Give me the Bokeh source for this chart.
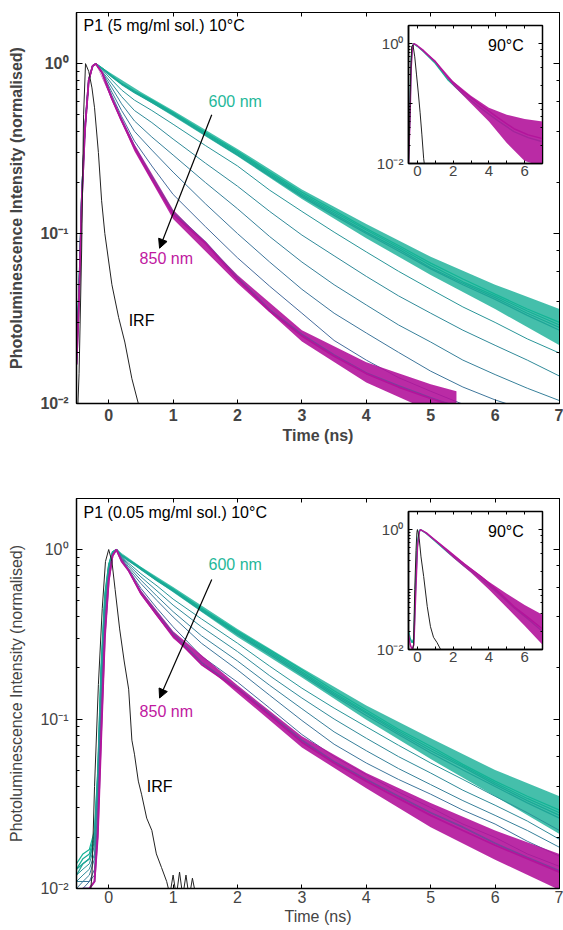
from bokeh.plotting import figure
from bokeh.layouts import column
from bokeh.models import (LinearAxis, LogAxis, FixedTicker, Range1d, Arrow, NormalHead,
                          CustomJSTickFormatter)
from bokeh.core.properties import value
from bokeh.embed import file_html
from bokeh.resources import INLINE

FONT = "Liberation Sans"

# ---------------- data ----------------
WAVELENGTHS = [600, 625, 650, 675, 700, 725, 750, 775, 800, 825, 850]
COLORS = ["#14b496", "#17af96", "#1aaa96", "#1ea597", "#299598", "#308a99",
          "#37809a", "#3e769b", "#466b9c", "#7c409c", "#b3149b"]
X_TICKS = [0, 1, 2, 3, 4, 5, 6, 7]

# top panel: P1 (5 mg/ml sol.) 10 C
T_TOP = [-0.5, -0.46, -0.42, -0.37, -0.31, -0.25, -0.2, -0.1, 0.05, 0.2, 0.4, 0.67, 1.0,
         1.5, 2.0, 2.5, 3.0, 3.5, 4.0, 4.5, 5.0, 5.5, 6.0, 6.5, 7.0]
top_600 = [0.02, 0.05, 0.17, 0.42, 0.8, 0.97, 1.0, 0.94, 0.85, 0.77, 0.69, 0.61, 0.515, 0.395, 0.305, 0.23, 0.175, 0.137, 0.107, 0.085, 0.067, 0.054, 0.044, 0.036, 0.030]
top_625 = [0.02, 0.05, 0.17, 0.42, 0.8, 0.97, 1.0, 0.94, 0.845, 0.765, 0.685, 0.605, 0.51, 0.39, 0.30, 0.226, 0.171, 0.134, 0.105, 0.083, 0.065, 0.052, 0.043, 0.035, 0.029]
top_650 = [0.019, 0.048, 0.16, 0.41, 0.8, 0.97, 1.0, 0.935, 0.84, 0.76, 0.68, 0.60, 0.505, 0.385, 0.295, 0.222, 0.168, 0.131, 0.102, 0.081, 0.063, 0.051, 0.042, 0.034, 0.028]
top_675 = [0.019, 0.047, 0.16, 0.41, 0.8, 0.97, 1.0, 0.93, 0.835, 0.755, 0.675, 0.59, 0.50, 0.38, 0.29, 0.218, 0.165, 0.128, 0.1, 0.079, 0.062, 0.05, 0.041, 0.033, 0.027]
top_700 = [0.018, 0.046, 0.16, 0.4, 0.8, 0.97, 1.0, 0.92, 0.80, 0.70, 0.61, 0.53, 0.44, 0.33, 0.25, 0.18, 0.135, 0.102, 0.078, 0.060, 0.047, 0.037, 0.030, 0.024, 0.0198]
top_725 = [0.018, 0.045, 0.155, 0.4, 0.8, 0.97, 1.0, 0.90, 0.76, 0.64, 0.53, 0.45, 0.36, 0.26, 0.19, 0.135, 0.098, 0.074, 0.056, 0.043, 0.034, 0.027, 0.022, 0.018, 0.0145]
top_750 = [0.018, 0.044, 0.155, 0.4, 0.8, 0.97, 1.0, 0.89, 0.72, 0.58, 0.46, 0.37, 0.29, 0.20, 0.14, 0.096, 0.068, 0.050, 0.038, 0.029, 0.023, 0.018, 0.0148, 0.0123, 0.0104]
top_775 = [0.017, 0.043, 0.15, 0.4, 0.8, 0.97, 1.0, 0.88, 0.68, 0.53, 0.40, 0.31, 0.23, 0.15, 0.10, 0.068, 0.047, 0.034, 0.026, 0.020, 0.0155, 0.0125, 0.0105, 0.0091, 0.008]
top_800 = [0.017, 0.042, 0.15, 0.4, 0.8, 0.97, 1.0, 0.88, 0.65, 0.49, 0.35, 0.25, 0.17, 0.11, 0.072, 0.049, 0.034, 0.0235, 0.018, 0.0142, 0.0118, 0.0099, 0.0086, 0.0076, 0.0068]
top_825 = [0.017, 0.041, 0.15, 0.4, 0.8, 0.97, 1.0, 0.88, 0.625, 0.465, 0.325, 0.215, 0.133, 0.089, 0.055, 0.0355, 0.0255, 0.0193, 0.0151, 0.0127, 0.0108, 0.0093, 0.008, 0.007, 0.006]
top_850 = [0.017, 0.04, 0.15, 0.4, 0.8, 0.97, 1.0, 0.88, 0.62, 0.46, 0.32, 0.21, 0.13, 0.088, 0.054, 0.035, 0.025, 0.019, 0.015, 0.0125, 0.0107, 0.0093, 0.0082, 0.0072, 0.0063]
irf_top_t = [-0.5, -0.46, -0.42, -0.39, -0.36, -0.31, -0.26, -0.22, -0.16, -0.11, -0.06, 0.05, 0.155, 0.25, 0.36, 0.46, 0.52]
irf_top_v = [0.006, 0.015, 0.08, 0.5, 1.0, 0.9, 0.72, 0.55, 0.3, 0.156, 0.1, 0.05, 0.032, 0.023, 0.014, 0.01, 0.009]
# noisy-band envelopes
band_top_teal_t = [-0.2, 0.5, 1.0, 2.0, 3.0, 4.0, 5.0, 6.0, 7.0]
band_top_teal_hi = [1.0, 0.68, 0.53, 0.315, 0.182, 0.114, 0.073, 0.05, 0.036]
band_top_teal_lo = [1.0, 0.64, 0.49, 0.285, 0.16, 0.094, 0.057, 0.036, 0.022]
band_top_mag_t = [-0.2, 0.4, 1.0, 2.0, 3.0, 4.0, 5.0, 5.4]
band_top_mag_hi = [1.0, 0.335, 0.138, 0.057, 0.027, 0.0175, 0.013, 0.0118]
band_top_mag_lo = [1.0, 0.305, 0.122, 0.051, 0.0232, 0.0133, 0.009, 0.0082]

# top inset (90 C)
T_IN_TOP = [-0.5, -0.42, -0.35, -0.28, -0.2, 0.0, 0.35, 1.0, 1.7, 2.6, 3.56, 4.5, 5.4, 6.2, 7.0]
in_top_600 = [0.012, 0.08, 0.55, 0.9, 1.0, 0.9, 0.73, 0.47, 0.25, 0.14, 0.083, 0.052, 0.034, 0.027, 0.023]
in_top_850 = [0.01, 0.05, 0.4, 0.85, 1.0, 0.92, 0.76, 0.5, 0.27, 0.155, 0.093, 0.058, 0.038, 0.03, 0.026]
band_in_top_t = [-0.2, 1.0, 2.0, 3.0, 4.0, 5.0, 6.0, 7.0]
band_in_top_hi = [1.0, 0.52, 0.235, 0.135, 0.085, 0.065, 0.055, 0.05]
band_in_top_lo = [1.0, 0.48, 0.2, 0.1, 0.05, 0.022, 0.011, 0.009]
irf_in_top_t = [-0.5, -0.44, -0.38, -0.32, -0.25, -0.15, -0.05, 0.05, 0.15, 0.25, 0.35, 0.45]
irf_in_top_v = [0.01, 0.04, 0.3, 0.9, 0.95, 0.6, 0.3, 0.15, 0.07, 0.03, 0.012, 0.007]

# bottom panel: P1 (0.05 mg/ml sol.) 10 C
T_BOT = [-0.5, -0.4, -0.3, -0.22, -0.17, -0.12, -0.06, 0.0, 0.06, 0.12, 0.2, 0.31, 0.5, 0.75,
         1.0, 1.44, 2.0, 2.5, 3.0, 3.5, 4.0, 4.5, 5.0, 5.5, 6.0, 6.5, 7.0]
bot_600 = [0.014, 0.016, 0.017, 0.022, 0.05, 0.2, 0.55, 0.82, 0.97, 1.0, 0.93, 0.87, 0.78, 0.67, 0.585, 0.45, 0.33, 0.255, 0.195, 0.147, 0.113, 0.087, 0.069, 0.054, 0.043, 0.035, 0.029]
bot_625 = [0.013, 0.015, 0.016, 0.021, 0.048, 0.19, 0.53, 0.81, 0.97, 1.0, 0.93, 0.865, 0.775, 0.665, 0.58, 0.445, 0.325, 0.25, 0.19, 0.143, 0.11, 0.085, 0.067, 0.053, 0.042, 0.034, 0.028]
bot_650 = [0.013, 0.014, 0.015, 0.02, 0.045, 0.18, 0.5, 0.8, 0.96, 1.0, 0.925, 0.86, 0.77, 0.66, 0.575, 0.44, 0.32, 0.245, 0.186, 0.14, 0.108, 0.083, 0.065, 0.052, 0.041, 0.033, 0.027]
bot_675 = [0.012, 0.014, 0.015, 0.019, 0.042, 0.16, 0.48, 0.78, 0.96, 1.0, 0.92, 0.855, 0.765, 0.655, 0.57, 0.435, 0.315, 0.24, 0.182, 0.137, 0.105, 0.081, 0.063, 0.05, 0.04, 0.032, 0.026]
bot_700 = [0.012, 0.013, 0.014, 0.018, 0.04, 0.15, 0.45, 0.76, 0.95, 1.0, 0.91, 0.83, 0.72, 0.61, 0.51, 0.39, 0.28, 0.205, 0.152, 0.116, 0.090, 0.070, 0.055, 0.044, 0.035, 0.028, 0.022]
bot_725 = [0.011, 0.012, 0.013, 0.016, 0.035, 0.13, 0.42, 0.74, 0.95, 1.0, 0.90, 0.81, 0.69, 0.57, 0.47, 0.35, 0.25, 0.18, 0.133, 0.100, 0.077, 0.060, 0.048, 0.038, 0.031, 0.025, 0.0195]
bot_750 = [0.011, 0.011, 0.012, 0.015, 0.03, 0.11, 0.39, 0.72, 0.94, 1.0, 0.89, 0.79, 0.66, 0.53, 0.43, 0.31, 0.22, 0.158, 0.115, 0.084, 0.065, 0.051, 0.041, 0.033, 0.027, 0.022, 0.0175]
bot_775 = [0.010, 0.011, 0.011, 0.013, 0.027, 0.1, 0.36, 0.7, 0.94, 1.0, 0.88, 0.77, 0.63, 0.50, 0.40, 0.28, 0.195, 0.138, 0.098, 0.071, 0.055, 0.044, 0.036, 0.029, 0.024, 0.019, 0.0155]
bot_800 = [0.010, 0.010, 0.011, 0.012, 0.024, 0.09, 0.34, 0.68, 0.93, 1.0, 0.87, 0.76, 0.59, 0.45, 0.35, 0.235, 0.165, 0.116, 0.081, 0.06, 0.047, 0.037, 0.03, 0.024, 0.02, 0.016, 0.0135]
bot_825 = [0.009, 0.010, 0.010, 0.011, 0.022, 0.08, 0.32, 0.66, 0.92, 1.0, 0.86, 0.755, 0.56, 0.42, 0.32, 0.215, 0.152, 0.107, 0.075, 0.056, 0.044, 0.035, 0.028, 0.023, 0.0185, 0.0152, 0.0127]
bot_850 = [0.009, 0.0095, 0.010, 0.011, 0.02, 0.07, 0.3, 0.65, 0.92, 1.0, 0.85, 0.75, 0.55, 0.41, 0.31, 0.21, 0.15, 0.105, 0.073, 0.055, 0.043, 0.034, 0.027, 0.022, 0.018, 0.015, 0.0125]
irf_bot_t = [-0.3, -0.26, -0.22, -0.16, -0.1, -0.05, 0.0, 0.05, 0.1, 0.17, 0.24, 0.31, 0.36, 0.4, 0.46, 0.51, 0.59, 0.67, 0.74, 0.82, 0.9, 0.95, 1.0, 1.05, 1.1, 1.15, 1.2, 1.25, 1.3, 1.35, 1.4]
irf_bot_v = [0.008, 0.012, 0.04, 0.16, 0.45, 0.85, 1.0, 0.85, 0.58, 0.34, 0.22, 0.15, 0.075, 0.062, 0.043, 0.036, 0.026, 0.022, 0.016, 0.0133, 0.011, 0.0092, 0.012, 0.009, 0.0125, 0.009, 0.012, 0.0088, 0.0115, 0.0092, 0.008]
band_bot_teal_t = [0.12, 0.5, 1.0, 2.0, 3.0, 4.0, 5.0, 6.0, 7.0]
band_bot_teal_hi = [1.0, 0.79, 0.6, 0.34, 0.2, 0.12, 0.077, 0.05, 0.035]
band_bot_teal_lo = [1.0, 0.755, 0.56, 0.305, 0.176, 0.099, 0.058, 0.035, 0.021]
band_bot_mag_t = [0.12, 0.5, 1.0, 2.0, 3.0, 4.0, 5.0, 6.0, 7.0]
band_bot_mag_hi = [1.0, 0.575, 0.33, 0.158, 0.079, 0.048, 0.032, 0.022, 0.016]
band_bot_mag_lo = [1.0, 0.54, 0.3, 0.142, 0.068, 0.039, 0.023, 0.0148, 0.0098]

# bottom inset (90 C)
T_IN_BOT = [-0.5, -0.4, -0.3, -0.2, -0.1, 0.0, 0.1, 0.17, 0.5, 1.0, 1.7, 2.6, 3.56, 4.5, 5.4, 6.2, 7.0]
in_bot_600 = [0.02, 0.015, 0.013, 0.015, 0.12, 0.6, 0.95, 1.0, 0.86, 0.64, 0.42, 0.25, 0.15, 0.088, 0.05, 0.032, 0.02]
in_bot_850 = [0.018, 0.012, 0.01, 0.012, 0.08, 0.5, 0.9, 1.0, 0.88, 0.66, 0.45, 0.27, 0.165, 0.094, 0.052, 0.034, 0.022]
band_in_bot_t = [0.17, 1.0, 2.0, 3.0, 4.0, 5.0, 6.0, 7.0]
band_in_bot_hi = [1.0, 0.68, 0.38, 0.225, 0.135, 0.085, 0.055, 0.038]
band_in_bot_lo = [1.0, 0.64, 0.34, 0.19, 0.1, 0.05, 0.025, 0.012]
irf_in_bot_t = [-0.3, -0.22, -0.15, -0.08, -0.03, 0.0, 0.1, 0.2, 0.35, 0.55, 0.73, 0.9, 1.1, 1.3, 1.4]
irf_in_bot_v = [0.008, 0.012, 0.1, 0.45, 0.9, 1.0, 0.7, 0.35, 0.165, 0.052, 0.024, 0.016, 0.013, 0.01, 0.008]

TOP_CURVES = [top_600, top_625, top_650, top_675, top_700, top_725, top_750, top_775, top_800, top_825, top_850]
BOT_CURVES = [bot_600, bot_625, bot_650, bot_675, bot_700, bot_725, bot_750, bot_775, bot_800, bot_825, bot_850]

SUP_JS = """
const e = Math.round(Math.log10(tick));
const m = {"0": "\u2070", "1": "\u00b9", "2": "\u00b2", "-": "\u207b"};
return "10" + String(e).split("").map(c => m[c]).join("");
"""
SUP_JS_INSET = """
const e = Math.round(Math.log10(tick));
if (e == -1) { return ""; }
const m = {"0": "\u2070", "1": "\u00b9", "2": "\u00b2", "-": "\u207b"};
return "10" + String(e).split("").map(c => m[c]).join("");
"""
BLANK_JS = "return '';"

# shared side borders (a column aligns the left/right borders of all its plots)
BORDER_LEFT = 76
BORDER_RIGHT = 4


def hidden_axes(p, tick_in_major, tick_in_minor, x_tick_in, x_ticker):
    top_ax = LinearAxis(ticker=x_ticker, formatter=CustomJSTickFormatter(code=BLANK_JS),
                        major_label_text_color=None, major_label_text_font_size="1px",
                        major_tick_in=x_tick_in, major_tick_out=0, minor_tick_in=x_tick_in,
                        minor_tick_out=0, major_label_standoff=0)
    p.add_layout(top_ax, "above")
    right_ax = LogAxis(formatter=CustomJSTickFormatter(code=BLANK_JS),
                       major_label_text_color=None, major_label_text_font_size="1px",
                       major_tick_in=tick_in_major, major_tick_out=0,
                       minor_tick_in=tick_in_minor, minor_tick_out=0, major_label_standoff=0)
    p.add_layout(right_ax, "right")


def main_fig(frame_h, top_border, bottom_border, bold, tick_std, label_std):
    weight = "bold" if bold else "normal"
    p = figure(frame_width=483, frame_height=frame_h, x_range=Range1d(-0.5, 7),
               y_range=Range1d(0.01, 2), y_axis_type="log", output_backend="svg",
               toolbar_location=None, min_border_left=BORDER_LEFT, min_border_right=BORDER_RIGHT,
               min_border_top=top_border, min_border_bottom=bottom_border,
               x_axis_label="Time (ns)", y_axis_label="Photoluminescence Intensity (normalised)")
    p.grid.visible = False
    p.outline_line_color = "black"
    p.outline_line_width = 1
    p.background_fill_color = "white"
    p.border_fill_color = "white"

    xa = p.xaxis[0]
    xa.ticker = FixedTicker(ticks=X_TICKS)
    xa.major_tick_in = 4
    xa.major_tick_out = 0
    xa.minor_tick_line_color = None
    xa.axis_line_width = 1.5
    xa.major_label_text_font = FONT
    xa.major_label_text_font_size = "16px"
    xa.major_label_text_font_style = weight
    xa.major_label_standoff = tick_std
    xa.axis_label_text_font = FONT
    xa.axis_label_text_font_size = "16px"
    xa.axis_label_text_font_style = weight
    xa.axis_label_standoff = label_std

    ya = p.yaxis[0]
    ya.formatter = CustomJSTickFormatter(code=SUP_JS)
    ya.major_tick_in = 6
    ya.major_tick_out = 0
    ya.minor_tick_in = 3
    ya.minor_tick_out = 0
    ya.axis_line_width = 1.5
    ya.major_label_text_font = FONT
    ya.major_label_text_font_size = "16px"
    ya.major_label_text_font_style = weight
    ya.major_label_standoff = 8
    ya.axis_label_text_font = FONT
    ya.axis_label_text_font_size = "16px"
    ya.axis_label_text_font_style = weight
    ya.axis_label_standoff = 12

    hidden_axes(p, 6, 3, 4, FixedTicker(ticks=X_TICKS))
    return p


INSET_BORDER_TOP = 4


def inset_fig():
    q = figure(frame_width=134, frame_height=138, x_range=Range1d(-0.5, 7),
               y_range=Range1d(0.01, 2), y_axis_type="log", output_backend="svg",
               toolbar_location=None, min_border_left=BORDER_LEFT, min_border_right=BORDER_RIGHT,
               min_border_top=INSET_BORDER_TOP, min_border_bottom=24)
    q.grid.visible = False
    q.outline_line_color = "black"
    q.outline_line_width = 1.5
    q.background_fill_color = "white"
    q.border_fill_alpha = 0
    inset_ticker = FixedTicker(ticks=[0, 2, 4, 6], minor_ticks=[1, 3, 5, 7])
    xa = q.xaxis[0]
    xa.ticker = inset_ticker
    xa.major_tick_in = 3
    xa.major_tick_out = 0
    xa.minor_tick_in = 3
    xa.minor_tick_out = 0
    xa.axis_line_width = 1.5
    xa.major_label_text_font = FONT
    xa.major_label_text_font_size = "15px"
    xa.major_label_standoff = 2
    ya = q.yaxis[0]
    ya.formatter = CustomJSTickFormatter(code=SUP_JS_INSET)
    ya.major_tick_in = 4
    ya.major_tick_out = 0
    ya.minor_tick_in = 2
    ya.minor_tick_out = 0
    ya.axis_line_width = 1.5
    ya.major_label_text_font = FONT
    ya.major_label_text_font_size = "15px"
    ya.major_label_standoff = 5
    hidden_axes(q, 4, 2, 3, FixedTicker(ticks=[0, 2, 4, 6], minor_ticks=[1, 3, 5, 7]))
    return q


def draw_curves(p, t, curves, teal_band, mag_band):
    p.varea(x=teal_band[0], y1=teal_band[1], y2=teal_band[2], fill_color=COLORS[1], fill_alpha=0.8)
    for i, (vals, col) in enumerate(zip(curves, COLORS)):
        if i == 9:
            p.varea(x=mag_band[0], y1=mag_band[1], y2=mag_band[2], fill_color=COLORS[-1],
                    fill_alpha=0.9)
        lw = 1.8 if i >= 9 else (1.2 if i < 4 else 1.0)
        p.line(t, vals, line_color=col, line_width=lw)


def annotate(p, title, pos600, pos850, posirf, arrow):
    p.text(x=[pos600[0]], y=[pos600[1]], text=["600 nm"], text_font=value(FONT),
           text_font_size="16px", text_color="#1fb89a", text_baseline="middle", text_align="left")
    p.text(x=[pos850[0]], y=[pos850[1]], text=["850 nm"], text_font=value(FONT),
           text_font_size="16px", text_color="#c0189f", text_baseline="middle", text_align="left")
    p.text(x=[posirf[0]], y=[posirf[1]], text=["IRF"], text_font=value(FONT),
           text_font_size="16px", text_color="black", text_baseline="middle", text_align="left")
    p.text(x=[-0.39], y=[title[1]], text=[title[0]], text_font=value(FONT),
           text_font_size="16px", text_color="black", text_baseline="middle", text_align="left")
    p.add_layout(Arrow(end=NormalHead(size=9, fill_color="black", line_color="black", line_width=1),
                       x_start=arrow[0], y_start=arrow[1], x_end=arrow[2], y_end=arrow[3],
                       line_color="black", line_width=1.2))


def draw_inset(q, t, v600, v850, band, irf_t, irf_v):
    q.line(t, v600, line_color=COLORS[0], line_width=1.5)
    q.varea(x=band[0], y1=band[1], y2=band[2], fill_color=COLORS[-1], fill_alpha=0.9)
    q.line(t, v850, line_color=COLORS[-1], line_width=1.5)
    q.line(irf_t, irf_v, line_color="#222222", line_width=1)
    q.text(x=[3.95], y=[0.93], text=["90°C"], text_font=value(FONT), text_font_size="16px",
           text_baseline="middle", text_align="left", text_color="black")


# ---------- top panel (frame 76..559 x 12..403) ----------
p1 = main_fig(391, 12, 50, True, 5, 3)
draw_curves(p1, T_TOP, TOP_CURVES,
            (band_top_teal_t, band_top_teal_hi, band_top_teal_lo),
            (band_top_mag_t, band_top_mag_hi, band_top_mag_lo))
p1.line(irf_top_t, irf_top_v, line_color="#222222", line_width=1)
annotate(p1, ("P1 (5 mg/ml sol.) 10°C", 1.67), (1.55, 0.6), (0.48, 0.071), (0.31, 0.031),
         (1.6, 0.5, 0.79, 0.082))

in1 = inset_fig()
draw_inset(in1, T_IN_TOP, in_top_600, in_top_850,
           (band_in_top_t, band_in_top_hi, band_in_top_lo), irf_in_top_t, irf_in_top_v)

# ---------- bottom panel (frame 76..559 x 498..888) ----------
p2 = main_fig(390, 45, 42, False, 2, 2)
draw_curves(p2, T_BOT, BOT_CURVES,
            (band_bot_teal_t, band_bot_teal_hi, band_bot_teal_lo),
            (band_bot_mag_t, band_bot_mag_hi, band_bot_mag_lo))
p2.line(irf_bot_t, irf_bot_v, line_color="#222222", line_width=1)
annotate(p2, ("P1 (0.05 mg/ml sol.) 10°C", 1.65), (1.55, 0.816), (0.48, 0.111), (0.59, 0.04),
         (1.6, 0.666, 0.79, 0.133))

in2 = inset_fig()
draw_inset(in2, T_IN_BOT, in_bot_600, in_bot_850,
           (band_in_bot_t, band_in_bot_hi, band_in_bot_lo), irf_in_bot_t, irf_in_bot_v)

# insets overlaid by absolute positioning inside the column (inset frames at x 408, y 25 / 511)
in1.styles = {"position": "absolute", "left": str(408 - BORDER_LEFT) + "px",
              "top": str(25 - INSET_BORDER_TOP) + "px"}
in2.styles = {"position": "absolute", "left": str(408 - BORDER_LEFT) + "px",
              "top": str(511 - INSET_BORDER_TOP) + "px"}

layout = column(p1, p2, in1, in2, styles={"position": "relative"})
open("out.html", "w").write(file_html(layout, INLINE))
